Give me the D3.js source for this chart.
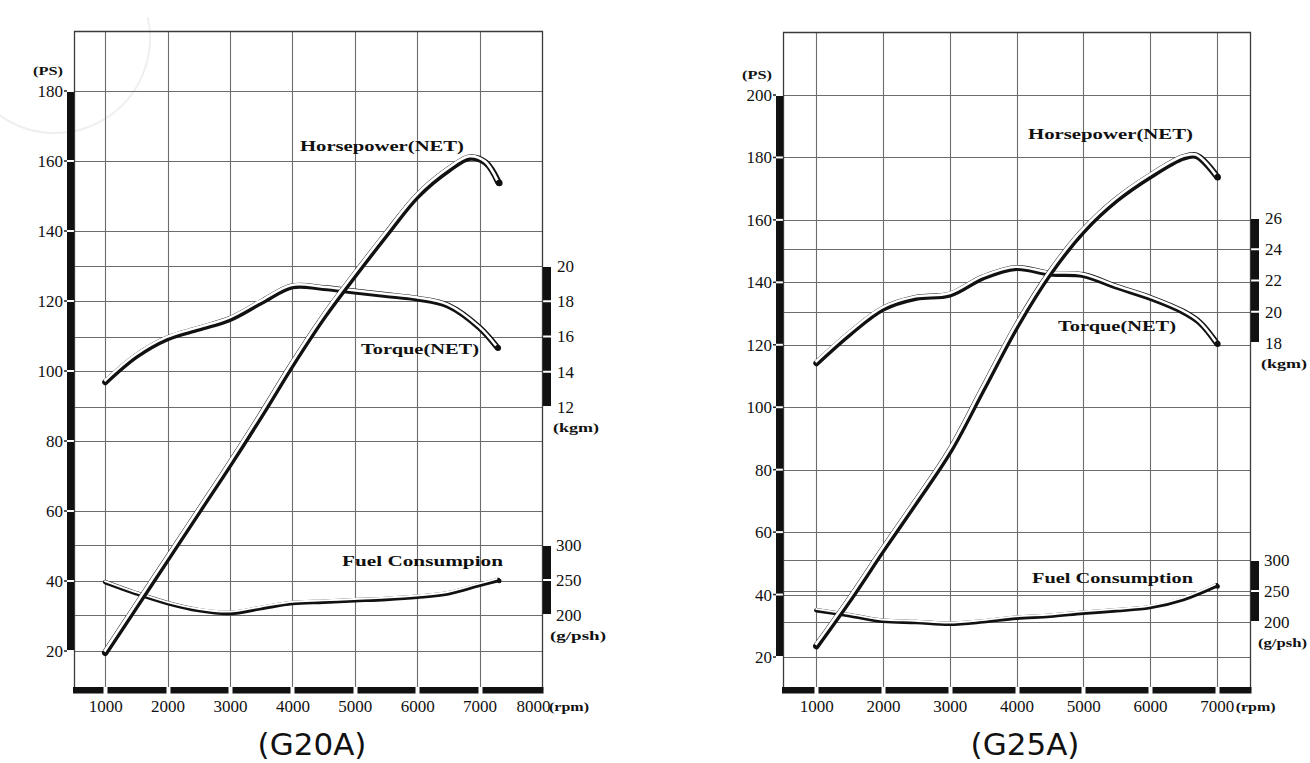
<!DOCTYPE html>
<html><head><meta charset="utf-8">
<script src="https://cdn.jsdelivr.net/npm/d3@7/dist/d3.min.js"></script>
<style>
body{margin:0;background:#fff}
text{font-family:"Liberation Serif","DejaVu Serif",serif;fill:#111}
</style>
</head><body>
<svg id="c" width="1310" height="763"></svg>
<script>
// ---------------- data ----------------
const rpmTicksG20 = [1000,2000,3000,4000,5000,6000,7000,8000];
const rpmTicksG25 = [1000,2000,3000,4000,5000,6000,7000];
const psTicksG20 = [20,40,60,80,100,120,140,160,180];
const psTicksG25 = [20,40,60,80,100,120,140,160,180,200];
const tqTicksG20 = [12,14,16,18,20];
const tqTicksG25 = [18,20,22,24,26];
const fuelTicks = [200,250,300];

// G20A
const g20HpRpm = [1000,1500,2000,2500,3000,3500,4000,4500,5000,5500,6000,6500,6850,7100,7300];
const g20HpPs  = [19.5,33,46.5,60,73.5,87.5,102,115.5,127.5,139,150,157.5,161,159.5,154];
const g20TqRpm = [1000,1500,2000,2500,3000,3500,4000,4500,5000,5500,6000,6500,7000,7280];
const g20TqKgm = [13.4,14.9,15.9,16.45,17.0,17.95,18.85,18.75,18.55,18.35,18.15,17.75,16.5,15.4];
const g20FuelRpm = [1000,1500,2000,2500,3000,3500,4000,4500,5000,5500,6000,6500,7000,7300];
const g20FuelG   = [247,231,217,207,203,210,217,219,221,223,226,231,243,250];

// G25A
const g25HpRpm = [1000,1500,2000,2500,3000,3500,4000,4500,5000,5500,6000,6500,6700,7000];
const g25HpPs  = [23.5,38.5,54.5,70,86,106,126,143,156.5,166.5,174,180,180.5,174];
const g25TqRpm = [1000,1500,2000,2500,3000,3500,4000,4500,5000,5500,6000,6500,6750,7000];
const g25TqKgm = [16.7,18.6,20.2,20.9,21.1,22.2,22.8,22.45,22.35,21.6,20.9,20.0,19.3,18.0];
const g25FuelRpm = [1000,1500,2000,2500,3000,3500,4000,4500,5000,5500,6000,6500,7000];
const g25FuelG   = [219,211,202,200,197,201,207,210,215,219,224,237,259];

const zip = (a,b) => a.map((v,i)=>[v,b[i]]);

const svg = d3.select('#c');

// faint watermark arc (scan artifact) in reference
svg.append('path').attr('transform','translate(55,38)')
  .attr('d', d3.arc()({innerRadius:95, outerRadius:95, startAngle:1.35, endAngle:3.8}))
  .attr('fill','none').attr('stroke','#efefef').attr('stroke-width',2);

function panel(cfg){
  const g = svg.append('g');
  const x = d3.scaleLinear().domain(cfg.xDom).range([cfg.left, cfg.right]);
  const yPs = d3.scaleLinear().domain(cfg.psDom).range(cfg.psRange);
  const yTq = d3.scaleLinear().domain(cfg.tqDom).range(cfg.tqRange);
  const yFu = d3.scaleLinear().domain(cfg.fuDom).range(cfg.fuRange);
  const top = cfg.top, bottom = cfg.bottom;
  const gridCol = '#6c6c6c';

  // horizontal grid lines: PS ticks + torque ticks + fuel ticks (merged when coincident)
  const ys = [];
  [...cfg.psTicks.map(yPs), ...cfg.tqTicks.map(yTq), ...fuelTicks.map(yFu)].forEach(v=>{
    const r = Math.round(v);
    if(!ys.some(o=>Math.abs(o-r)<3)) ys.push(r);
  });
  g.selectAll('line.h').data(ys).join('line')
    .attr('x1',cfg.left).attr('x2',cfg.right).attr('y1',d=>d+0.5).attr('y2',d=>d+0.5)
    .attr('stroke',gridCol).attr('stroke-width',1.1);
  // vertical grid lines
  g.selectAll('line.v').data(cfg.rpmTicks.filter(t=>x(t)<cfg.right-2)).join('line')
    .attr('x1',d=>Math.round(x(d))+0.5).attr('x2',d=>Math.round(x(d))+0.5)
    .attr('y1',top).attr('y2',bottom-3)
    .attr('stroke',gridCol).attr('stroke-width',1.1);
  // frame
  g.append('path').attr('d',`M${cfg.left+0.5},${bottom}V${top+0.5}H${cfg.right+0.5}V${bottom}`)
    .attr('fill','none').attr('stroke','#3a3a3a').attr('stroke-width',1.3);

  // bottom thick bar with gaps at ticks
  const bx = [cfg.left-1, ...cfg.rpmTicks.map(t=>Math.round(x(t))+0.5).filter(v=>v<cfg.right-2), cfg.right+1.5];
  for(let i=0;i<bx.length-1;i++){
    const a = bx[i]+(i===0?0:2), b = bx[i+1]-(i===bx.length-2?0:2);
    g.append('rect').attr('x',a).attr('y',bottom-3).attr('width',b-a).attr('height',6.5).attr('fill','#111');
  }

  // left thick bar (PS) with gaps
  const pv = cfg.psTicks.map(yPs);
  for(let i=0;i<pv.length-1;i++){
    const a = pv[i+1]+1, b = pv[i]-1;
    g.append('rect').attr('x',cfg.left-7).attr('y',a).attr('width',7).attr('height',b-a).attr('fill','#111');
  }
  g.selectAll('line.pt').data(cfg.psTicks).join('line')
    .attr('x1',cfg.left-10).attr('x2',cfg.left-7).attr('y1',d=>yPs(d)).attr('y2',d=>yPs(d))
    .attr('stroke','#222').attr('stroke-width',1.5);

  // right thick bars: torque and fuel
  function rightBar(ticks, sc){
    const v = ticks.map(sc);
    for(let i=0;i<v.length-1;i++){
      const a = Math.min(v[i],v[i+1])+1, b = Math.max(v[i],v[i+1])-1;
      g.append('rect').attr('x',cfg.right+1).attr('y',a).attr('width',8).attr('height',b-a).attr('fill','#111');
    }
  }
  rightBar(cfg.tqTicks, yTq);
  rightBar(fuelTicks, yFu);

  // axes labels through d3 axes
  const fs = '17px';
  const fmt = d3.format('d');
  const ax = g.append('g').attr('transform',`translate(${cfg.left-11},0)`)
    .call(d3.axisLeft(yPs).tickValues(cfg.psTicks).tickFormat(fmt).tickSize(0).tickPadding(0));
  ax.select('.domain').remove();
  ax.selectAll('text').style('font-size',fs).attr('fill','#111');

  const at = g.append('g').attr('transform',`translate(${cfg.right+15},0)`)
    .call(d3.axisRight(yTq).tickValues(cfg.tqTicks).tickFormat(fmt).tickSize(0).tickPadding(0));
  at.select('.domain').remove();
  at.selectAll('text').style('font-size',fs).attr('fill','#111');

  const af = g.append('g').attr('transform',`translate(${cfg.right+14},0)`)
    .call(d3.axisRight(yFu).tickValues(fuelTicks).tickFormat(fmt).tickSize(0).tickPadding(0));
  af.select('.domain').remove();
  af.selectAll('text').style('font-size',fs).attr('fill','#111');

  const axb = g.append('g').attr('transform',`translate(0,${bottom+10})`)
    .call(d3.axisBottom(x).tickValues(cfg.rpmTicks).tickFormat(fmt).tickSize(0).tickPadding(0));
  axb.select('.domain').remove();
  axb.selectAll('text').style('font-size','17px').attr('fill','#111')
     .attr('dx', d=> d===8000 ? -9 : 0);

  // unit labels
  const unit = (xx, yy, t, w, anchor) => g.append('text').attr('x',xx).attr('y',yy)
    .attr('text-anchor',anchor||'start').style('font-size','12px').style('font-weight','bold')
    .attr('textLength',w).attr('lengthAdjust','spacingAndGlyphs').text(t);
  unit(cfg.psUnitX, yPs(cfg.psTicks[cfg.psTicks.length-1])-16, '(PS)', 30, 'end');
  unit(cfg.right+11, yTq(cfg.tqTicks[0])+25, '(kgm)', 46);
  unit(cfg.right+8, yFu(200)+25, '(g/psh)', cfg.fuUnitW);
  unit(x(cfg.rpmTicks[cfg.rpmTicks.length-1])+(cfg.rpmTicks.length===8?7:19), bottom+21, '(rpm)', 40);

  // curves drawn as double (ribbon) lines
  function ribbon(pts, sc, w){
    const line = d3.line().x(d=>x(d[0])).y(d=>sc(d[1])).curve(d3.curveCatmullRom.alpha(0.5));
    const dd = line(pts);
    g.append('path').attr('d',dd).attr('fill','none').attr('stroke','#111')
      .attr('stroke-width',w).attr('stroke-linecap','round');
    g.append('path').attr('d',dd).attr('fill','none').attr('stroke','#fff')
      .attr('stroke-width',w*0.42).attr('transform','translate(-0.9,-1.3)');
    const last = pts[pts.length-1];
    g.append('circle').attr('cx',x(last[0])+1).attr('cy',sc(last[1])+1).attr('r',w*0.5).attr('fill','#111');
  }
  ribbon(cfg.fuel, yFu, 4.5);
  ribbon(cfg.tq, yTq, 6);
  ribbon(cfg.hp, yPs, 6.5);

  // curve labels
  cfg.labels.forEach(l=>{
    g.append('text').attr('x',l.x).attr('y',l.y).style('font-size','15px').style('font-weight','bold')
      .attr('textLength',l.w).attr('lengthAdjust','spacingAndGlyphs').attr('fill','#222').text(l.t);
  });

  // title
  svg.append('text').attr('x',cfg.titleX).attr('y',755).attr('text-anchor','middle')
    .style('font-family','"DejaVu Sans",sans-serif').style('font-size','31px').attr('fill','#4a4a4a')
    .text(cfg.title);
}

panel({
  title:'(G20A)', titleX:312,
  left:74, right:542, top:31, bottom:690,
  xDom:[500,8000], psDom:[20,180], psRange:[651,91],
  tqDom:[12,20], tqRange:[407,266], fuDom:[200,300], fuRange:[615,545],
  rpmTicks:rpmTicksG20, psTicks:psTicksG20, tqTicks:tqTicksG20,
  psUnitX:63, fuUnitW:56,
  hp:zip(g20HpRpm,g20HpPs), tq:zip(g20TqRpm,g20TqKgm), fuel:zip(g20FuelRpm,g20FuelG),
  labels:[
    {t:'Horsepower(NET)', x:300, y:151, w:164},
    {t:'Torque(NET)', x:361, y:354, w:118},
    {t:'Fuel Consumpion', x:342, y:566, w:161}
  ]
});

panel({
  title:'(G25A)', titleX:1025,
  left:783, right:1250, top:32, bottom:690,
  xDom:[500,7500], psDom:[20,200], psRange:[657,95],
  tqDom:[18,26], tqRange:[343,218], fuDom:[200,300], fuRange:[622,560],
  rpmTicks:rpmTicksG25, psTicks:psTicksG25, tqTicks:tqTicksG25,
  psUnitX:772, fuUnitW:49,
  hp:zip(g25HpRpm,g25HpPs), tq:zip(g25TqRpm,g25TqKgm), fuel:zip(g25FuelRpm,g25FuelG),
  labels:[
    {t:'Horsepower(NET)', x:1028, y:139, w:165},
    {t:'Torque(NET)', x:1058, y:331, w:118},
    {t:'Fuel Consumption', x:1032, y:583, w:161}
  ]
});
</script>
</body></html>
